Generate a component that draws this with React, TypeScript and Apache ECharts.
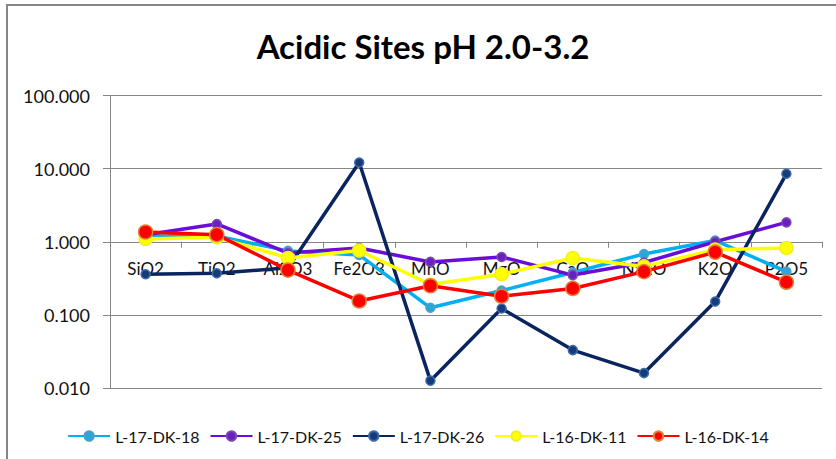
import React, { useEffect, useRef } from "react";
import * as echarts from "echarts";

const categories = ["SiO2", "TiO2", "Al2O3", "Fe2O3", "MnO", "MgO", "CaO", "Na2O", "K2O", "P2O5"];
const yTicks = [0.01, 0.1, 1, 10, 100];

const dk18 = [1.2, 1.2, 0.75, 0.66, 0.125, 0.215, 0.38, 0.68, 1.04, 0.39];
const dk25 = [1.25, 1.75, 0.7, 0.82, 0.53, 0.62, 0.35, 0.52, 1.0, 1.84];
const dk26 = [0.36, 0.37, 0.44, 12.1, 0.0126, 0.122, 0.033, 0.016, 0.152, 8.5];
const dk11 = [1.09, 1.15, 0.6, 0.76, 0.26, 0.36, 0.6, 0.46, 0.78, 0.82];
const dk14 = [1.36, 1.25, 0.41, 0.155, 0.25, 0.18, 0.23, 0.39, 0.72, 0.28];

const seriesDefs = [
  { name: "L-17-DK-18", data: dk18, color: "#00B0F0", fill: "#2AA6DA", border: "#4FA0C8", size: 9 },
  { name: "L-17-DK-25", data: dk25, color: "#6A0DD6", fill: "#6A1FC0", border: "#7A4AB0", size: 9 },
  { name: "L-17-DK-26", data: dk26, color: "#0A2460", fill: "#173A78", border: "#3A6AAA", size: 9 },
  { name: "L-16-DK-11", data: dk11, color: "#FFFF00", fill: "#FFFF00", border: "#F0F020", size: 13 },
  { name: "L-16-DK-14", data: dk14, color: "#FF0000", fill: "#FF0000", border: "#E0843A", size: 14 },
];

const FONT = "Lato, 'Open Sans', sans-serif";

export default function App() {
  const ref = useRef<HTMLDivElement>(null);
  useEffect(() => {
    if (!ref.current) return;
    const chart = echarts.init(ref.current, null, { renderer: "svg" });
    chart.setOption({
      animation: false,
      backgroundColor: "#ffffff",
      textStyle: { fontFamily: FONT },
      title: {
        text: "Acidic Sites pH 2.0-3.2",
        left: 418,
        textAlign: "center",
        top: 24,
        textStyle: { fontFamily: FONT, fontSize: 33, fontWeight: "bold", color: "#000" },
      },
      graphic: [
        {
          type: "rect",
          shape: { x: 7, y: 5, width: 840, height: 470 },
          style: { fill: "none", stroke: "#868686", lineWidth: 2 },
          silent: true,
        },
      ],
      grid: { left: 110, right: 14, top: 95.5, bottom: 71 },
      legend: {
        top: 423,
        left: "center",
        itemWidth: 42,
        itemHeight: 12,
        itemGap: 10,
        textStyle: { fontFamily: FONT, fontSize: 16, color: "#111" },
        data: seriesDefs.map((s) => s.name),
      },
      xAxis: {
        type: "category",
        data: categories,
        boundaryGap: true,
        offset: -146.25,
        axisLine: { show: true, lineStyle: { color: "#868686", width: 1 } },
        axisTick: { show: true, length: 6, lineStyle: { color: "#868686" } },
        axisLabel: { fontFamily: FONT, fontSize: 17, color: "#111", margin: 18, interval: 0 },
        splitLine: { show: false },
      },
      yAxis: {
        type: "log",
        logBase: 10,
        min: yTicks[0],
        max: yTicks[yTicks.length - 1],
        axisLine: { show: true, lineStyle: { color: "#868686", width: 1 } },
        axisTick: { show: true, length: 7, lineStyle: { color: "#868686" } },
        axisLabel: {
          fontFamily: FONT,
          fontSize: 18,
          color: "#111",
          margin: 20,
          formatter: (v: number) => v.toFixed(3),
        },
        splitLine: { show: true, lineStyle: { color: "#868686", width: 1 } },
      },
      series: seriesDefs.map((s) => ({
        name: s.name,
        type: "line",
        data: s.data,
        symbol: "circle",
        symbolSize: s.size,
        lineStyle: { color: s.color, width: 3.5 },
        itemStyle: { color: s.fill, borderColor: s.border, borderWidth: 1.5 },
        emphasis: { disabled: true },
      })),
    });
    return () => chart.dispose();
  }, []);
  return (
    <div
      ref={ref}
      style={{ position: "absolute", left: 0, top: 0, width: 836, height: 459 }}
    />
  );
}
